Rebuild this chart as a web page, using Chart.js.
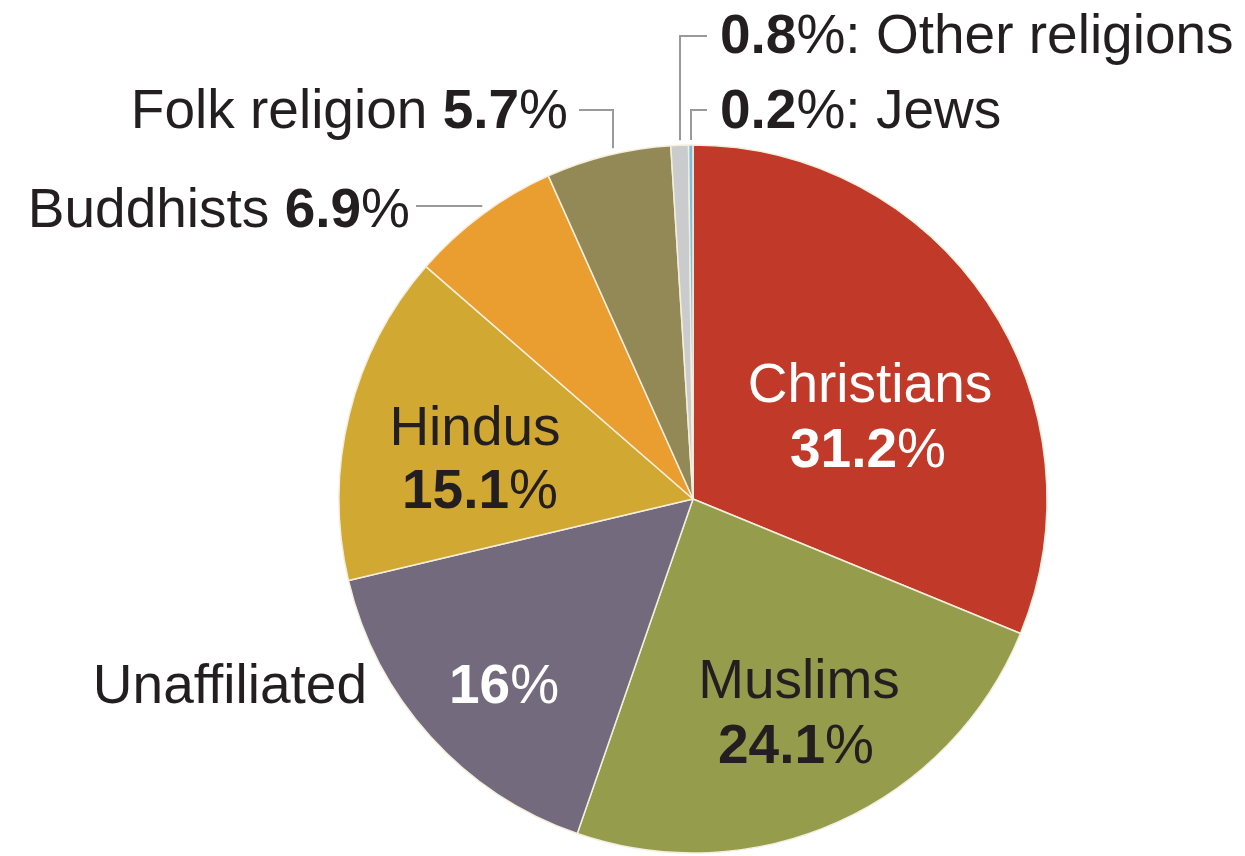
<!DOCTYPE html>
<html>
<head>
<meta charset="utf-8">
<script src="https://cdn.jsdelivr.net/npm/chart.js"></script>
<style>
  html, body { margin: 0; padding: 0; background: #fff; }
  #religionChart { display: block; }
</style>
</head>
<body>
<canvas id="religionChart" width="1245" height="856"></canvas>
<script>
// World religious groups, share of population (%)
const religions = ['Christians', 'Muslims', 'Unaffiliated', 'Hindus', 'Buddhists', 'Folk religion', 'Other religions', 'Jews'];
const shares = [31.2, 24.1, 16, 15.1, 6.9, 5.7, 0.8, 0.2];
const sliceColors = ['#C13A29', '#959C4C', '#736A7E', '#D1A831', '#E99E2F', '#938957', '#C9CBCD', '#7DBDE2'];

const DARK = '#231F20';
const FONT = '"Liberation Sans", Arial, sans-serif';
const SIZE = 55;

// where each label goes (baselines), and how it is built
const labelLayout = [
    { kind: 'inside', name: [870, 402], pct: [868, 467], color: '#fff' },
    { kind: 'inside', name: [799, 698], pct: [796, 763], color: DARK },
    { kind: 'split', name: [367, 703], pct: [504, 703], nameColor: DARK, pctColor: '#fff' },
    { kind: 'inside', name: [475, 445], pct: [480, 508], color: DARK },
    { kind: 'left', at: [410, 227], lineY: 206 },
    { kind: 'leftUp', at: [568, 128], lineY: 110, lineEnd: 579, dx: 5 },
    { kind: 'rightUp', at: [720, 53], lineY: 36, lineEnd: 707 },
    { kind: 'rightUp', at: [720, 128], lineY: 110, lineEnd: 707 }
];

function pctText(v) {
    return v + '%';
}

// split "6.9%" into bold digits and regular percent sign
function pctParts(v) {
    return [{ t: String(v), b: true }, { t: '%', b: false }];
}

function setFont(ctx, bold) {
    ctx.font = (bold ? 'bold ' : '') + SIZE + 'px ' + FONT;
}

function partsWidth(ctx, parts) {
    let w = 0;
    parts.forEach(function(p) {
        setFont(ctx, p.b);
        w += ctx.measureText(p.t).width;
    });
    return w;
}

function drawParts(ctx, parts, x, y, align, color) {
    const w = partsWidth(ctx, parts);
    let start = x;
    if (align === 'center') start = x - w / 2;
    if (align === 'right') start = x - w;
    ctx.fillStyle = color;
    ctx.textAlign = 'left';
    ctx.textBaseline = 'alphabetic';
    parts.forEach(function(p) {
        setFont(ctx, p.b);
        ctx.fillText(p.t, start, y);
        start += ctx.measureText(p.t).width;
    });
}

const sliceLabels = {
    id: 'sliceLabels',
    afterDatasetsDraw: function(chart) {
        const ctx = chart.ctx;
        const meta = chart.getDatasetMeta(0);
        ctx.save();
        ctx.strokeStyle = '#9A9A9A';
        ctx.lineWidth = 2;

        meta.data.forEach(function(arc, i) {
            const L = labelLayout[i];
            const props = arc.getProps(['x', 'y', 'startAngle', 'endAngle', 'outerRadius'], true);
            const cx = props.x, cy = props.y, r = props.outerRadius;
            const mid = (props.startAngle + props.endAngle) / 2;
            const name = religions[i];
            const v = shares[i];

            if (L.kind === 'inside') {
                drawParts(ctx, [{ t: name, b: false }], L.name[0], L.name[1], 'center', L.color);
                drawParts(ctx, pctParts(v), L.pct[0], L.pct[1], 'center', L.color);
            } else if (L.kind === 'split') {
                drawParts(ctx, [{ t: name, b: false }], L.name[0], L.name[1], 'right', L.nameColor);
                drawParts(ctx, pctParts(v), L.pct[0], L.pct[1], 'center', L.pctColor);
            } else if (L.kind === 'left') {
                const parts = [{ t: name + ' ', b: false }].concat(pctParts(v));
                drawParts(ctx, parts, L.at[0], L.at[1], 'right', DARK);
                const edgeX = cx - Math.sqrt(r * r - Math.pow(L.lineY - cy, 2));
                ctx.beginPath();
                ctx.moveTo(L.at[0] + 6, L.lineY);
                ctx.lineTo(edgeX - 12, L.lineY);
                ctx.stroke();
            } else if (L.kind === 'leftUp') {
                const parts = [{ t: name + ' ', b: false }].concat(pctParts(v));
                drawParts(ctx, parts, L.at[0], L.at[1], 'right', DARK);
                const lx = Math.round(cx + r * Math.cos(mid)) + (L.dx || 0);
                const edgeY = cy - Math.sqrt(r * r - Math.pow(lx - cx, 2));
                ctx.beginPath();
                ctx.moveTo(lx, edgeY - 6);
                ctx.lineTo(lx, L.lineY);
                ctx.lineTo(L.lineEnd, L.lineY);
                ctx.stroke();
            } else if (L.kind === 'rightUp') {
                const parts = [{ t: String(v), b: true }, { t: '%:', b: false }, { t: ' ' + name, b: false }];
                drawParts(ctx, parts, L.at[0], L.at[1], 'left', DARK);
                const lx = Math.round(cx + r * Math.cos(mid));
                const edgeY = cy - Math.sqrt(r * r - Math.pow(lx - cx, 2));
                ctx.beginPath();
                ctx.moveTo(lx, edgeY - 5);
                ctx.lineTo(lx, L.lineY);
                ctx.lineTo(L.lineEnd, L.lineY);
                ctx.stroke();
            }
        });
        ctx.restore();
    }
};

document.addEventListener('DOMContentLoaded', function() {
    const ctx = document.getElementById('religionChart').getContext('2d');
    new Chart(ctx, {
        type: 'pie',
        data: {
            labels: religions,
            datasets: [{
                data: shares,
                backgroundColor: sliceColors,
                borderColor: '#F4EEDC',
                borderWidth: 1.5,
                hoverOffset: 0
            }]
        },
        options: {
            responsive: false,
            devicePixelRatio: 1,
            animation: false,
            radius: 354,
            layout: {
                padding: { top: 145, bottom: 3, left: 300, right: 159 }
            },
            plugins: {
                legend: { display: false },
                tooltip: { enabled: false }
            }
        },
        plugins: [sliceLabels]
    });
});
</script>
</body>
</html>
